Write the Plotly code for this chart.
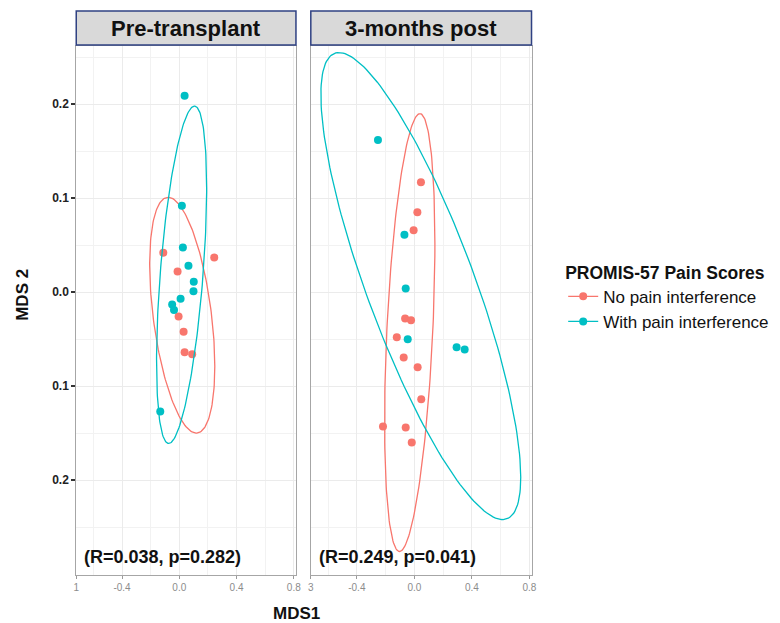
import numpy as np
import plotly.graph_objects as go

# ---------------- data ----------------
panels = ["Pre-transplant", "3-months post"]
groups = ["No pain interference", "With pain interference"]
colors = ["#F8766D", "#00BFC4"]
stats = ["(R=0.038, p=0.282)", "(R=0.249, p=0.041)"]

pre_no_x = [-0.112, 0.244, -0.012, -0.005, 0.030, 0.037, 0.090]
pre_no_y = [0.042, 0.037, 0.022, -0.026, -0.042, -0.064, -0.066]
pre_with_x = [0.037, 0.018, 0.025, 0.064, 0.101, 0.099, 0.009, -0.050, -0.037, -0.133]
pre_with_y = [0.209, 0.092, 0.0475, 0.028, 0.011, 0.001, -0.007, -0.013, -0.019, -0.127]
post_no_x = [0.046, 0.021, -0.005, -0.064, -0.023, -0.122, -0.074, 0.023, 0.048, -0.218, -0.060, -0.018]
post_no_y = [0.117, 0.085, 0.066, -0.028, -0.030, -0.048, -0.0695, -0.080, -0.114, -0.143, -0.144, -0.160]
post_with_x = [-0.253, -0.069, -0.060, -0.046, 0.294, 0.350]
post_with_y = [0.162, 0.061, 0.004, -0.050, -0.0585, -0.061]

# ellipse parameters: centre x, centre y, half-width, half-height, x-offset of top point
ell_pre_no = [0.0205, -0.0245, 0.2275, 0.1255, -0.0985]
ell_pre_with = [0.016, 0.0185, 0.175, 0.1795, 0.090]
ell_post_no = [-0.032, -0.043, 0.175, 0.233, 0.071]
ell_post_with = [0.045, 0.0065, 0.695, 0.2485, -0.569]

x_tickvals = [-0.72, -0.4, 0.0, 0.4, 0.8]
x_ticktext_left = ["1", "-0.4", "0.0", "0.4", "0.8"]
x_ticktext_right = ["3", "-0.4", "0.0", "0.4", "0.8"]
y_tickvals = [0.2, 0.1, 0.0, -0.1, -0.2]
y_ticktext = ["0.2", "0.1", "0.0", "0.1", "0.2"]


def ellipse(p, n=200):
    cx, cy, hw, hh, tdx = p
    sxy = tdx * hh
    l21 = sxy / hw
    l22 = np.sqrt(hh ** 2 - l21 ** 2)
    t = np.linspace(0, 2 * np.pi, n)
    return cx + hw * np.cos(t), cy + l21 * np.cos(t) + l22 * np.sin(t)


W, H = 780, 623
FONT = "Liberation Sans, Arial, sans-serif"

fig = go.Figure()

panel_data = [
    [(pre_no_x, pre_no_y, ell_pre_no), (pre_with_x, pre_with_y, ell_pre_with)],
    [(post_no_x, post_no_y, ell_post_no), (post_with_x, post_with_y, ell_post_with)],
]

for pi, pdata in enumerate(panel_data):
    xa = "x" if pi == 0 else "x2"
    ya = "y" if pi == 0 else "y2"
    for gi, (xs, ys, ep) in enumerate(pdata):
        ex, ey = ellipse(ep)
        fig.add_trace(go.Scatter(x=ex, y=ey, mode="lines", xaxis=xa, yaxis=ya,
                                 line=dict(color=colors[gi], width=1.3),
                                 showlegend=False, hoverinfo="skip"))
        fig.add_trace(go.Scatter(x=xs, y=ys, mode="markers", xaxis=xa, yaxis=ya,
                                 marker=dict(color=colors[gi], size=8),
                                 showlegend=False))

# legend entries
for gi, g in enumerate(groups):
    fig.add_trace(go.Scatter(x=[None], y=[None], mode="lines+markers", name=g,
                             line=dict(color=colors[gi], width=1.3),
                             marker=dict(color=colors[gi], size=8)))

xdom = [[74 / W, 296 / W], [311 / W, 534 / W]]
ydom = [1 - 575 / H, 1 - 46 / H]
xrange = [-0.72, 0.815]
yrange = [-0.301, 0.262]

common_x = dict(range=xrange, showgrid=True, gridcolor="#ebebeb", gridwidth=1,
                zeroline=False, showline=True, linecolor="#a6a6a6", linewidth=1, mirror=True,
                ticks="outside", ticklen=3, tickcolor="#9a9a9a", tickmode="array",
                tickvals=x_tickvals, tickfont=dict(family=FONT, size=10, color="#8c8c8c"),
                minor=dict(tickvals=[-0.6, -0.2, 0.2, 0.6], showgrid=True,
                           gridcolor="#f2f2f2", gridwidth=1, ticks=""))
common_y = dict(range=yrange, showgrid=True, gridcolor="#ebebeb", gridwidth=1,
                zeroline=False, showline=True, linecolor="#a6a6a6", linewidth=1, mirror=True,
                tickmode="array", tickvals=y_tickvals,
                ticktext=[f"<b>{t}</b>" for t in y_ticktext], domain=ydom,
                minor=dict(tickvals=[0.25, 0.15, 0.05, -0.05, -0.15, -0.25], showgrid=True,
                           gridcolor="#f2f2f2", gridwidth=1, ticks=""))

fig.update_layout(
    width=W, height=H, autosize=False,
    margin=dict(l=0, r=0, t=0, b=0),
    paper_bgcolor="white", plot_bgcolor="white",
    font=dict(family=FONT, color="#111"),
    xaxis=dict(domain=xdom[0], anchor="y", ticktext=x_ticktext_left, **common_x),
    xaxis2=dict(domain=xdom[1], anchor="y2", ticktext=x_ticktext_right, **common_x),
    yaxis=dict(anchor="x", ticks="outside", ticklen=4, tickcolor="#333", tickwidth=1.5,
               tickfont=dict(family=FONT, size=12, color="#222"), **common_y),
    yaxis2=dict(anchor="x2", matches="y", showticklabels=False, ticks="", **common_y),
    legend=dict(x=566 / W, y=1 - 256 / H, xanchor="left", yanchor="top",
                bgcolor="rgba(0,0,0,0)", tracegroupgap=0,
                font=dict(family=FONT, size=17, color="#111"),
                title=dict(text="<b>PROMIS-57 Pain Scores</b>",
                           font=dict(family=FONT, size=17.5, color="#111"))),
    showlegend=True,
)

# strips
for pi, name in enumerate(panels):
    fig.add_shape(type="rect", xref="paper", yref="paper",
                  x0=xdom[pi][0], x1=xdom[pi][1], y0=1 - 45 / H, y1=1 - 11 / H,
                  fillcolor="#d9d9d9", line=dict(color="#2f4183", width=1.5), layer="above")
    fig.add_annotation(text=f"<b>{name}</b>", xref="paper", yref="paper",
                       x=(xdom[pi][0] + xdom[pi][1]) / 2, y=1 - 28 / H,
                       showarrow=False, xanchor="center", yanchor="middle",
                       font=dict(family=FONT, size=22, color="#111"))
    fig.add_annotation(text=f"<b>{stats[pi]}</b>", xref="paper", yref="paper",
                       x=xdom[pi][0] + 6 / W, y=1 - 557 / H,
                       showarrow=False, xanchor="left", yanchor="middle",
                       font=dict(family=FONT, size=18, color="#111"))

# axis titles
fig.add_annotation(text="<b>MDS 2</b>", xref="paper", yref="paper", x=20 / W, y=1 - 295 / H,
                   showarrow=False, textangle=-90, xanchor="center", yanchor="middle",
                   font=dict(family=FONT, size=17, color="#111"))
fig.add_annotation(text="<b>MDS1</b>", xref="paper", yref="paper", x=297 / W, y=1 - 613 / H,
                   showarrow=False, xanchor="center", yanchor="middle",
                   font=dict(family=FONT, size=17, color="#111"))

fig.write_html("out.html")
